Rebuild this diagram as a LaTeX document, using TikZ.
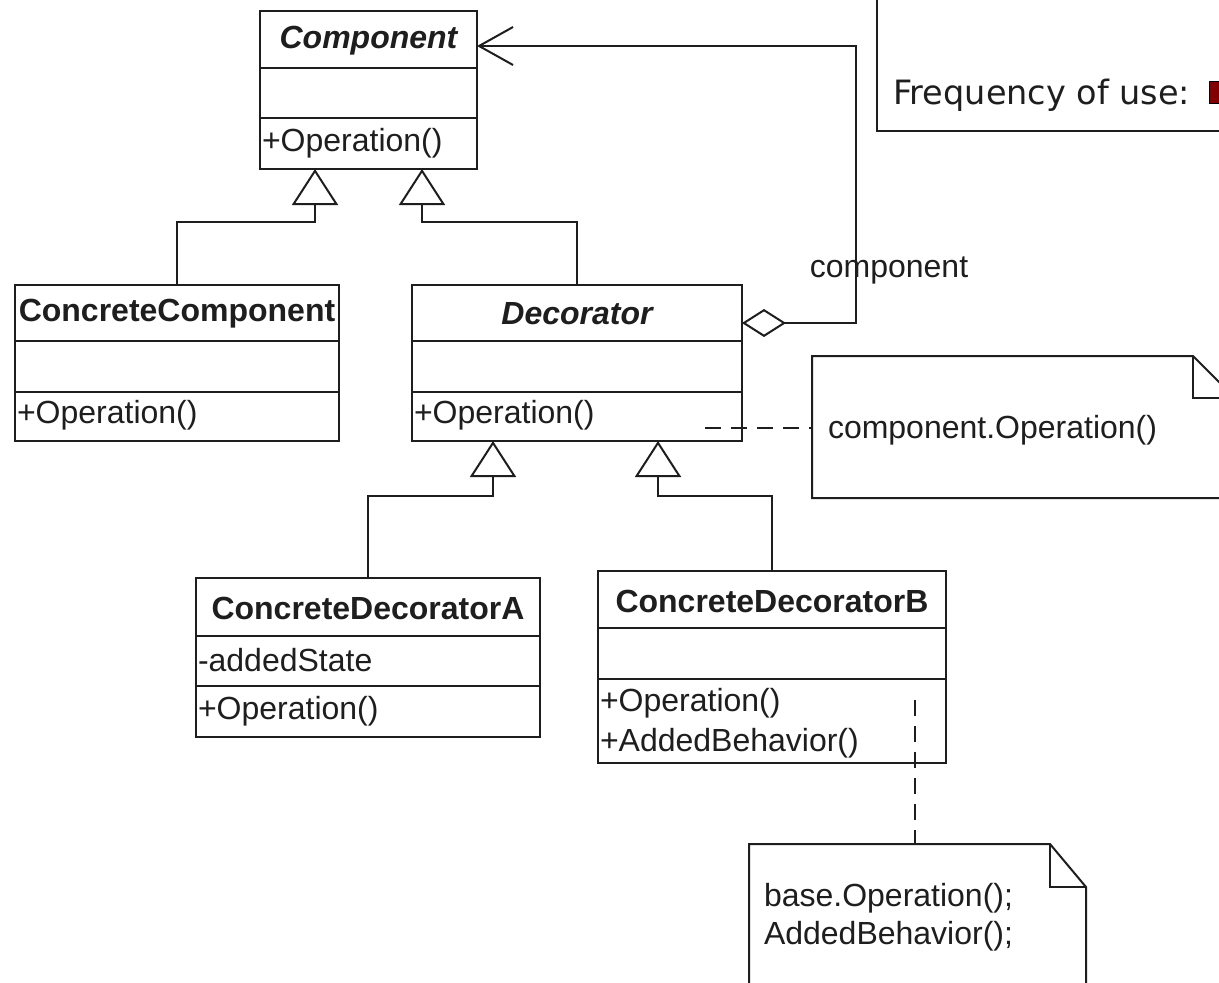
\documentclass[tikz,border=0pt]{standalone}
\usepackage{fontspec}
\setmainfont{Liberation Sans}
\newfontfamily\pixfont{DejaVu Sans}
\usetikzlibrary{arrows.meta,calc}
\definecolor{ink}{RGB}{30,30,30}
\definecolor{freqred}{RGB}{130,0,0}
\begin{document}
\begin{tikzpicture}[x=1pt,y=-1pt,
  every node/.style={inner sep=0pt, outer sep=0pt, text=ink, font=\fontsize{32}{38}\selectfont},
  classbox/.style={draw=ink, line width=2pt, rectangle},
  notebox/.style={rectangle},
  title/.style={font=\fontsize{32}{38}\selectfont\bfseries},
  ititle/.style={font=\fontsize{32}{38}\selectfont\bfseries\itshape},
  member/.style={anchor=west},
  divider/.style={line width=2pt, draw=ink},
  outline/.style={line width=2pt, draw=ink, line join=miter},
  gen/.style={line width=2pt, draw=ink, -{Triangle[open, length=36pt, width=46pt]}},
  agg/.style={line width=2pt, draw=ink, {Diamond[open, length=44pt, width=28pt]}-{Straight Barb[length=34pt, width=38pt]}},
  notelink/.style={line width=2pt, draw=ink, dash pattern=on 16pt off 10pt}
]
\useasboundingbox (0,0) rectangle (1219,983);
\clip (0,0) rectangle (1219,983);
\fill[white] (0,0) rectangle (1219,983);

% Frequency box
\node[classbox, minimum width=363pt, minimum height=151pt] (freq) at (1058.5,55.5) {};
\node[anchor=west, font=\pixfont\fontsize{33.5}{40}\selectfont] (freqT) at (893,95) {Frequency of use:};
\fill[freqred, draw=black, line width=1pt] (1209,81) rectangle (1226,103);

% Component
\node[classbox, minimum width=217pt, minimum height=158pt] (comp) at (368.5,90) {};
\draw[divider] ($(comp.north west)+(0,57)$) -- ($(comp.north east)+(0,57)$);
\draw[divider] ($(comp.north west)+(0,107)$) -- ($(comp.north east)+(0,107)$);
\node[ititle] (compT) at ($(comp.north)+(0,30)$) {Component};
\node[member] (compOp) at ($(comp.north west)+(2,132)$) {+Operation()};

% ConcreteComponent
\node[classbox, minimum width=324pt, minimum height=156pt] (cc) at (177,363) {};
\draw[divider] ($(cc.north west)+(0,56)$) -- ($(cc.north east)+(0,56)$);
\draw[divider] ($(cc.north west)+(0,107)$) -- ($(cc.north east)+(0,107)$);
\node[title] (ccT) at ($(cc.north)+(0,29)$) {ConcreteComponent};
\node[member] (ccOp) at ($(cc.north west)+(2,130)$) {+Operation()};

% Decorator
\node[classbox, minimum width=330pt, minimum height=156pt] (dec) at (577,363) {};
\draw[divider] ($(dec.north west)+(0,56)$) -- ($(dec.north east)+(0,56)$);
\draw[divider] ($(dec.north west)+(0,107)$) -- ($(dec.north east)+(0,107)$);
\node[ititle] (decT) at ($(dec.north)+(0,29)$) {Decorator};
\node[member] (decOp) at ($(dec.north west)+(2,130)$) {+Operation()};

% ConcreteDecoratorA
\node[classbox, minimum width=344pt, minimum height=159pt] (cda) at (368,657.5) {};
\draw[divider] ($(cda.north west)+(0,58)$) -- ($(cda.north east)+(0,58)$);
\draw[divider] ($(cda.north west)+(0,108)$) -- ($(cda.north east)+(0,108)$);
\node[title] (cdaT) at ($(cda.north)+(0,30)$) {ConcreteDecoratorA};
\node[member] (cdaSt) at ($(cda.north west)+(2,82)$) {-addedState};
\node[member] (cdaOp) at ($(cda.north west)+(2,133)$) {+Operation()};

% ConcreteDecoratorB
\node[classbox, minimum width=348pt, minimum height=192pt] (cdb) at (772,667) {};
\draw[divider] ($(cdb.north west)+(0,57)$) -- ($(cdb.north east)+(0,57)$);
\draw[divider] ($(cdb.north west)+(0,108)$) -- ($(cdb.north east)+(0,108)$);
\node[title] (cdbT) at ($(cdb.north)+(0,30)$) {ConcreteDecoratorB};
\node[member] (cdbOp) at ($(cdb.north west)+(2,132)$) {+Operation()};
\node[member] (cdbAB) at ($(cdb.north west)+(2,172)$) {+AddedBehavior()};

% Note 1
\node[notebox, minimum width=423pt, minimum height=142pt] (n1) at (1023.5,427) {};
\draw[outline] (n1.north west) -- ($(n1.north east)+(-42,0)$) -- ($(n1.north east)+(0,42)$) -- (n1.south east) -- (n1.south west) -- cycle;
\draw[outline] ($(n1.north east)+(-42,0)$) |- ($(n1.north east)+(0,42)$);
\node[member] (n1T) at ($(n1.west)+(16,3)$) {component.Operation()};

% Note 2
\node[notebox, minimum width=337pt, minimum height=170pt] (n2) at (917.5,929) {};
\draw[outline] (n2.north west) -- ($(n2.north east)+(-36,0)$) -- ($(n2.north east)+(0,43)$) -- (n2.south east) -- (n2.south west) -- cycle;
\draw[outline] ($(n2.north east)+(-36,0)$) |- ($(n2.north east)+(0,43)$);
\node[member] (n2a) at ($(n2.north west)+(15,54)$) {base.Operation();};
\node[member] (n2b) at ($(n2.north west)+(15,92)$) {AddedBehavior();};

% Generalizations
\draw[gen] (cc.north) |- ($(comp.south)+(-53.5,53)$) -- ($(comp.south)+(-53.5,0)$);
\draw[gen] (dec.north) |- ($(comp.south)+(53.5,53)$) -- ($(comp.south)+(53.5,0)$);
\draw[gen] (cda.north) |- ($(dec.south)+(-84,55)$) -- ($(dec.south)+(-84,0)$);
\draw[gen] (cdb.north) |- ($(dec.south)+(81,55)$) -- ($(dec.south)+(81,0)$);

% Aggregation / association
\draw[agg] ($(dec.north east)+(0,38)$) -- ++(114,0) |- ($(comp.north east)+(0,35)$);
\node (roleLbl) at (889,270) {component};

% Note links
\coordinate (d1) at (705,428);
\draw[notelink] (d1) -- (d1 -| n1.west);
\coordinate (d2) at (915,700);
\draw[notelink] (d2) -- (d2 |- n2.north);
\end{tikzpicture}
\end{document}
